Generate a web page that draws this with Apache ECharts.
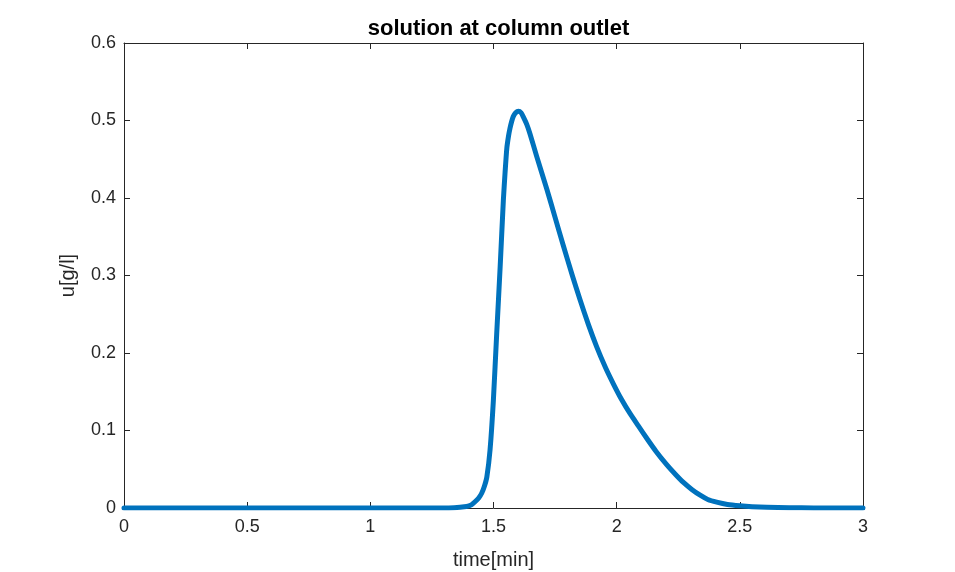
<!DOCTYPE html>
<html>
<head>
<meta charset="utf-8">
<script src="https://cdn.jsdelivr.net/npm/echarts@6/dist/echarts.min.js"></script>
<style>html,body{margin:0;padding:0;background:#fff}#c{width:955px;height:572px}</style>
</head>
<body>
<div id="c"></div>
<script>
const chartTitle = 'solution at column outlet';
const xName = 'time[min]';
const yName = 'u[g/l]';
const times = [0, 0.5, 1.0, 1.3, 1.39, 1.41, 1.425, 1.44, 1.452, 1.463, 1.473, 1.486, 1.4995, 1.513, 1.527, 1.540, 1.547, 1.554, 1.561, 1.567, 1.574, 1.58, 1.59, 1.601, 1.612, 1.622, 1.635, 1.648, 1.675, 1.716, 1.75, 1.783, 1.82, 1.851, 1.885, 1.919, 1.955, 1.987, 2.02, 2.054, 2.088, 2.122, 2.16, 2.203, 2.24, 2.271, 2.305, 2.339, 2.37, 2.406, 2.45, 2.5, 2.55, 2.61, 2.7, 2.8, 3.0];
const values = [0, 0, 0, 0, 0.002, 0.004, 0.008, 0.013, 0.019, 0.028, 0.040, 0.075, 0.139, 0.225, 0.311, 0.397, 0.433, 0.464, 0.480, 0.490, 0.499, 0.505, 0.510, 0.512, 0.510, 0.504, 0.495, 0.483, 0.454, 0.412, 0.375, 0.339, 0.300, 0.269, 0.237, 0.208, 0.181, 0.160, 0.140, 0.122, 0.106, 0.090, 0.073, 0.056, 0.043, 0.033, 0.024, 0.0165, 0.011, 0.0075, 0.0045, 0.0028, 0.0017, 0.001, 0.0004, 0.0001, 0];
const xTicks = ['0', '0.5', '1', '1.5', '2', '2.5', '3'];
const yTicks = ['0', '0.1', '0.2', '0.3', '0.4', '0.5', '0.6'];

const ink = '#262626';
const font = 'Liberation Sans, Arial, Helvetica, sans-serif';
const data = times.map((t, i) => [t, values[i]]);

const baseAxis = {
  axisLine: {show: true, onZero: false, lineStyle: {color: ink, width: 1}},
  axisTick: {show: true, inside: true, length: 6, lineStyle: {color: ink}},
  splitLine: {show: false},
  nameTextStyle: {color: ink, fontFamily: font, fontSize: 20}
};

const chart = echarts.init(document.getElementById('c'), null, {renderer: 'canvas'});
chart.setOption({
  animation: false,
  backgroundColor: '#ffffff',
  title: {
    text: chartTitle, left: 493.5, top: 13, textAlign: 'center',
    textStyle: {fontFamily: font, fontSize: 22, fontWeight: 'bold', color: '#000'}
  },
  grid: {left: 124, right: 92, top: 43, bottom: 64, show: false, containLabel: false, outerBoundsMode: 'none'},
  xAxis: [
    Object.assign({}, baseAxis, {
      type: 'value', min: 0, max: 3, interval: 0.5, position: 'bottom',
      name: xName, nameLocation: 'middle', nameGap: 42,
      axisLabel: {color: ink, fontFamily: font, fontSize: 18, margin: 10,
        formatter: v => xTicks[Math.round(v / 0.5)]}
    }),
    Object.assign({}, baseAxis, {
      type: 'value', min: 0, max: 3, interval: 0.5, position: 'top',
      axisLabel: {show: false}
    })
  ],
  yAxis: [
    Object.assign({}, baseAxis, {
      type: 'value', min: 0, max: 0.6, interval: 0.1, position: 'left',
      name: yName, nameLocation: 'middle', nameGap: 46,
      axisLabel: {color: ink, fontFamily: font, fontSize: 18, margin: 8,
        formatter: v => yTicks[Math.round(v / 0.1)]}
    }),
    Object.assign({}, baseAxis, {
      type: 'value', min: 0, max: 0.6, interval: 0.1, position: 'right',
      axisLabel: {show: false}
    })
  ],
  series: [{
    type: 'line', data: data, xAxisIndex: 0, yAxisIndex: 0,
    showSymbol: false, smooth: 0.2,
    lineStyle: {color: '#0072BD', width: 5, join: 'round', cap: 'round'},
    itemStyle: {color: '#0072BD'}
  }]
});
</script>
</body>
</html>
